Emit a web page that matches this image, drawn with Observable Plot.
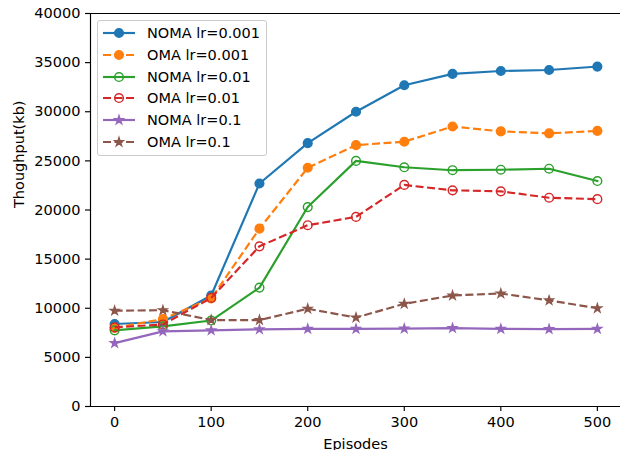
<!DOCTYPE html>
<html><head><meta charset="utf-8">
<script src="https://cdn.jsdelivr.net/npm/d3@7"></script>
<script src="https://cdn.jsdelivr.net/npm/@observablehq/plot@0.6"></script>
<style>
body{margin:0;background:#fff;}
#wrap{position:relative;width:620px;height:450px;overflow:hidden;font-family:"DejaVu Sans",sans-serif;}
#legend{position:absolute;left:97px;top:20px;width:170px;height:136px;border:1px solid #cccccc;border-radius:3px;background:rgba(255,255,255,0.8);box-sizing:border-box;}
.row{position:absolute;left:4px;height:20px;display:flex;align-items:center;font-size:14.5px;color:#000;white-space:nowrap;}
.row svg{margin-right:11px;}
</style></head>
<body><div id="wrap"><div id="legend"></div></div>
<script>
// ---- data ----
const episodes = [0, 50, 100, 150, 200, 250, 300, 350, 400, 450, 500];
const nomaLr0001 = [8400, 8600, 11300, 22700, 26800, 30000, 32700, 33850, 34150, 34250, 34600];
const omaLr0001  = [8000, 8900, 11000, 18100, 24300, 26600, 26950, 28500, 28000, 27800, 28050];
const nomaLr001  = [7750, 8150, 8750, 12100, 20300, 25000, 24350, 24050, 24100, 24200, 22950];
const omaLr001   = [8050, 8350, 11050, 16300, 18450, 19300, 22550, 22000, 21900, 21250, 21100];
const nomaLr01   = [6450, 7650, 7750, 7850, 7900, 7900, 7920, 7980, 7900, 7870, 7900];
const omaLr01    = [9750, 9800, 8800, 8800, 9950, 9050, 10450, 11300, 11500, 10800, 10000];
const seriesNames = ["NOMA lr=0.001", "OMA lr=0.001", "NOMA lr=0.01", "OMA lr=0.01", "NOMA lr=0.1", "OMA lr=0.1"];
const xTicks = [0, 100, 200, 300, 400, 500];
const yTicks = [0, 5000, 10000, 15000, 20000, 25000, 30000, 35000, 40000];
const xLabel = "Episodes";
const yLabel = "Thoughput(kb)";

// ---- styles ----
const seriesValues = [nomaLr0001, omaLr0001, nomaLr001, omaLr001, nomaLr01, omaLr01];
const seriesColors = ["#1f77b4", "#ff7f0e", "#2ca02c", "#d62728", "#9467bd", "#8c564b"];
const seriesDashed = [false, true, false, true, false, true];
const seriesMarker = ["filled", "filled", "open", "open", "star", "star"];
const LW = 2.17, DASH = "8,3.5", MEW = 1.45, RC = 4.35, RS = 2.6;

const marks = [];
seriesValues.forEach((vals, i) => {
  const data = episodes.map((e, j) => ({episode: e, value: vals[j]}));
  const c = seriesColors[i];
  marks.push(Plot.line(data, {x: "episode", y: "value", stroke: c, strokeWidth: LW,
    strokeDasharray: seriesDashed[i] ? DASH : null, strokeLinejoin: "round", strokeLinecap: seriesDashed[i] ? "butt" : "square"}));
  const m = seriesMarker[i];
  marks.push(Plot.dot(data, {x: "episode", y: "value",
    symbol: m === "star" ? "star" : "circle",
    r: m === "star" ? RS : RC,
    fill: m === "open" ? "none" : c, stroke: c, strokeWidth: MEW}));
});

const chart = Plot.plot({
  width: 620, height: 450,
  marginLeft: 90, marginRight: 0, marginTop: 13, marginBottom: 44,
  style: {fontFamily: "DejaVu Sans", fontSize: "14.5px", color: "#000", background: "#fff", overflow: "visible"},
  x: {domain: [-25, 525], range: [90, 621]},
  y: {domain: [0, 40000], range: [406, 13]},
  marks: [
    ...marks,
    Plot.ruleX([-25], {stroke: "#000", strokeWidth: 1.16}),
    Plot.ruleY([0], {stroke: "#000", strokeWidth: 1.16}),
    Plot.ruleY([40000], {stroke: "#000", strokeWidth: 1.16}),
    Plot.axisX({ticks: xTicks, tickSize: 5, tickPadding: 5, fontSize: 14.5, label: null, strokeWidth: 1.16, tickFormat: d => String(d)}),
    Plot.axisY({ticks: yTicks, tickSize: 5, tickPadding: 5, fontSize: 14.5, label: null, strokeWidth: 1.16, tickFormat: d => String(d)}),
    Plot.text([xLabel], {frameAnchor: "bottom", lineAnchor: "top", dy: 32.5, fontSize: 14.5}),
    Plot.text([yLabel], {frameAnchor: "left", rotate: -90, dx: -71, dy: -2, fontSize: 14.5})
  ]
});
document.getElementById("wrap").prepend(chart);

// ---- legend ----
const legend = document.getElementById("legend");
seriesNames.forEach((name, i) => {
  const row = document.createElement("div");
  row.className = "row";
  row.style.top = (2 + i * 21.8) + "px";
  const c = seriesColors[i];
  const m = seriesMarker[i];
  const sym = m === "star" ? d3.symbolStar : d3.symbolCircle;
  const r = m === "star" ? RS : RC;
  const path = d3.symbol(sym, Math.PI * r * r)();
  row.innerHTML = `<svg width="34" height="20" viewBox="0 0 34 20">
    <line x1="1" y1="10" x2="33" y2="10" stroke="${c}" stroke-width="${LW}" ${seriesDashed[i] ? `stroke-dasharray="${DASH}"` : ""}/>
    <path d="${path}" transform="translate(17,10)" fill="${m === "open" ? "none" : c}" stroke="${c}" stroke-width="${MEW}"/>
  </svg><span>${name}</span>`;
  legend.appendChild(row);
});
</script>
</body></html>
